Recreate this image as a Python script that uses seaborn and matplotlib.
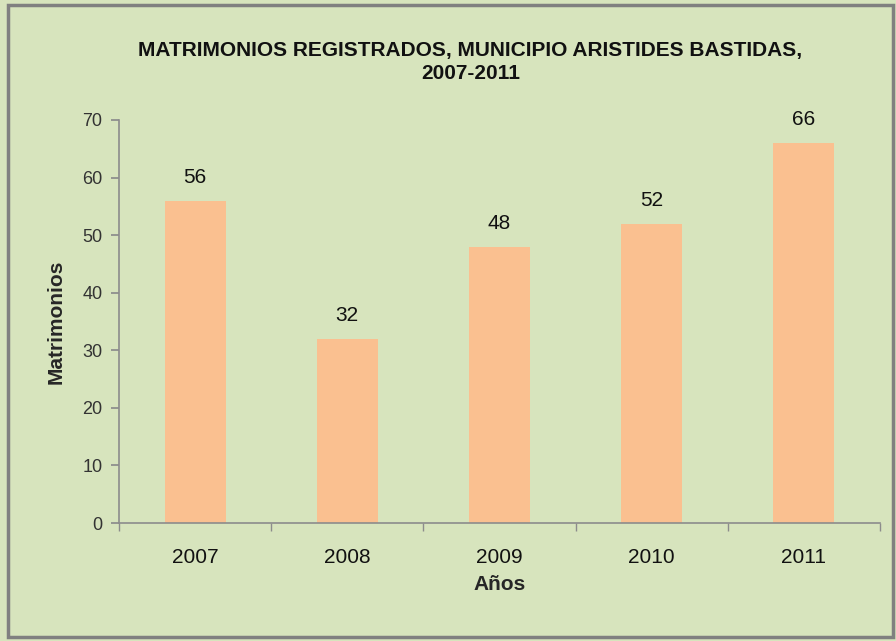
import matplotlib
matplotlib.use("Agg")
import matplotlib.pyplot as plt
import matplotlib.font_manager as fm
from matplotlib.patches import Rectangle
import seaborn as sns
import pandas as pd
import numpy as np

years = ["2007", "2008", "2009", "2010", "2011"]
values = [56, 32, 48, 52, 66]
title = "MATRIMONIOS REGISTRADOS, MUNICIPIO ARISTIDES BASTIDAS,\n2007-2011"
xlabel = "Años"
ylabel = "Matrimonios"

sns.set_theme(style="white")
names = {f.name for f in fm.fontManager.ttflist}
fam = "Liberation Sans Narrow" if "Liberation Sans Narrow" in names else "Liberation Sans"
plt.rcParams['font.family'] = [fam, 'DejaVu Sans']

bg = "#d7e4bd"
bar_color = "#fac090"
spine_c = "#8c8c8c"

fig = plt.figure(figsize=(8.96, 6.41), dpi=100, facecolor=bg)
ax = fig.add_axes([119/896, 1-523/641, (880-119)/896, (523-120)/641])
ax.set_facecolor(bg)

df = pd.DataFrame({"year": years, "value": values})
sns.barplot(data=df, x="year", y="value", color=bar_color, saturation=1, width=0.4,
            linewidth=0, edgecolor=bar_color, ax=ax)

for i, v in enumerate(values):
    ax.text(i, v + 2.4, str(v), ha="center", va="bottom", fontsize=15, color="#111111")

ax.set_xlim(-0.5, 4.5)
ax.set_ylim(0, 70)
ax.set_yticks(range(0, 71, 10))
ax.set_xticks(range(5))
ax.set_xticks(np.arange(-0.5, 5, 1), minor=True)
ax.tick_params(axis="x", which="major", length=0, pad=18, labelsize=15, colors="#111111")
ax.tick_params(axis="x", which="minor", length=6, color=spine_c, direction="out", bottom=True)
ax.tick_params(axis="y", length=6, color=spine_c, direction="out", left=True, labelsize=13, labelcolor="#333333", pad=6)
for s in ["top", "right"]:
    ax.spines[s].set_visible(False)
for s in ["left", "bottom"]:
    ax.spines[s].set_color(spine_c)
    ax.spines[s].set_linewidth(1.2)

ax.set_xlabel(xlabel, fontsize=15, fontweight="bold", labelpad=6)
ax.set_ylabel(ylabel, fontsize=15, fontweight="bold", labelpad=12)

fig.text(0.525, 1-62/641, title, ha="center", va="center", fontsize=15, fontweight="bold",
         linespacing=1.3, color="#111111")

fig.patches.append(Rectangle((8/896, 1-637/641), (893-8)/896, (637-5)/641, transform=fig.transFigure,
                             fill=False, edgecolor="#808080", linewidth=2.5))

fig.savefig("out.png", dpi=100, facecolor=bg)
